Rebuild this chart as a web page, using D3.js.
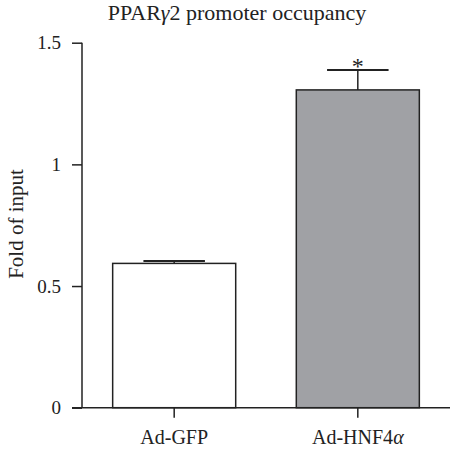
<!DOCTYPE html>
<html>
<head>
<meta charset="utf-8">
<script src="https://cdn.jsdelivr.net/npm/d3@7"></script>
<style>
  body { margin: 0; background: #fff; }
  svg text { font-family: "Liberation Serif", "DejaVu Serif", serif; fill: #222; }
</style>
</head>
<body>
<svg id="chart" width="450" height="451"></svg>
<script>
// data
const groups = ["Ad-GFP", "Ad-HNF4\u03b1"];
const means = [0.593, 1.306];
const errors = [0.01, 0.082];
const marks = ["", "*"];
const yTicks = [0, 0.5, 1, 1.5];
const barFills = ["#ffffff", "#a0a1a5"];

let svg = d3.select("#chart");
let ink = "#222";

let x = d3.scaleBand().domain(groups).range([82, 450])
  .paddingInner(0.33).paddingOuter(0.167);
let y = d3.scaleLinear().domain([0, 1.5]).range([407.7, 42.7]);

let rows = groups.map((g, i) => ({ g: g, v: means[i], e: errors[i], m: marks[i], fill: barFills[i] }));

// write text with greek letters in italic
function greekItalic(sel, str) {
  sel.text(null);
  str.split(/([\u03b1-\u03c9])/).forEach(part => {
    if (!part) return;
    let t = sel.append("tspan").text(part);
    if (/[\u03b1-\u03c9]/.test(part)) t.attr("font-style", "italic");
  });
}

// title
svg.append("text")
  .attr("x", 237).attr("y", 20)
  .attr("text-anchor", "middle")
  .attr("font-size", "22px")
  .call(greekItalic, "PPAR\u03b32 promoter occupancy");

// bars
svg.append("g").selectAll("rect")
  .data(rows)
  .enter().append("rect")
  .attr("x", d => x(d.g))
  .attr("y", d => y(d.v))
  .attr("width", x.bandwidth())
  .attr("height", d => y(0) - y(d.v))
  .attr("fill", d => d.fill)
  .attr("stroke", ink)
  .attr("stroke-width", 1.5);

// error bars (upper only)
let eb = svg.append("g").selectAll("g")
  .data(rows)
  .enter().append("g");
eb.append("line")
  .attr("x1", d => x(d.g) + x.bandwidth() / 2)
  .attr("x2", d => x(d.g) + x.bandwidth() / 2)
  .attr("y1", d => y(d.v))
  .attr("y2", d => y(d.v + d.e))
  .attr("stroke", ink).attr("stroke-width", 1.5);
eb.append("line")
  .attr("x1", d => x(d.g) + x.bandwidth() / 4)
  .attr("x2", d => x(d.g) + x.bandwidth() * 3 / 4)
  .attr("y1", d => y(d.v + d.e))
  .attr("y2", d => y(d.v + d.e))
  .attr("stroke", ink).attr("stroke-width", 2);
eb.append("text")
  .attr("x", d => x(d.g) + x.bandwidth() / 2)
  .attr("y", d => y(d.v + d.e) + 4)
  .attr("text-anchor", "middle")
  .attr("font-size", "24px")
  .attr("fill", "#333")
  .text(d => d.m);

// y axis
let yAxis = d3.axisLeft(y).tickValues(yTicks).tickSize(10).tickPadding(11)
  .tickFormat(d => d === 0 ? "0" : String(d));
let ga = svg.append("g")
  .attr("transform", "translate(82,0)")
  .call(yAxis);
ga.select(".domain").remove();
ga.append("line").attr("x1", 0).attr("x2", 0).attr("y1", y(1.5)).attr("y2", y(0))
  .attr("stroke", ink).attr("stroke-width", 1.5);
ga.selectAll(".tick line").attr("stroke", ink).attr("stroke-width", 1.5);
ga.selectAll(".tick text")
  .attr("font-size", "19px")
  .attr("font-family", "Liberation Serif, serif")
  .attr("fill", ink);

// x axis
let xAxis = d3.axisBottom(x).tickSize(10).tickPadding(12);
let gx = svg.append("g")
  .attr("transform", `translate(0,${y(0)})`)
  .call(xAxis);
gx.select(".domain").remove();
gx.append("line").attr("x1", 72).attr("x2", 450).attr("y1", 0).attr("y2", 0)
  .attr("stroke", ink).attr("stroke-width", 1.5);
gx.selectAll(".tick line").attr("stroke", ink).attr("stroke-width", 1.5);
gx.selectAll(".tick text")
  .attr("font-size", "20px")
  .attr("font-family", "Liberation Serif, serif")
  .attr("fill", ink)
  .each(function (d) { greekItalic(d3.select(this), d); });

// y label
svg.append("text")
  .attr("transform", "translate(23,224) rotate(-90)")
  .attr("text-anchor", "middle")
  .attr("font-size", "21px")
  .text("Fold of input");
</script>
</body>
</html>
